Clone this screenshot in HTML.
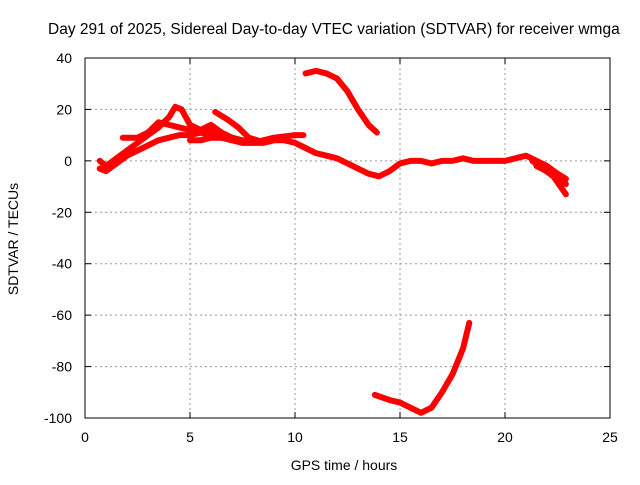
<!DOCTYPE html>
<html><head><meta charset="utf-8"><style>
body{margin:0;background:#fff}
text{font-family:"Liberation Sans",sans-serif;font-size:14px;fill:#000}
</style></head><body>
<svg id="c" width="640" height="480">
<text x="48" y="34" style="font-size:15.5px">Day 291 of 2025, Sidereal Day-to-day VTEC variation (SDTVAR) for receiver wmga</text>
<text x="344" y="470" text-anchor="middle">GPS time / hours</text>
<text transform="translate(18,239) rotate(-90)" text-anchor="middle">SDTVAR / TECUs</text>
<g id="grid"></g><g id="series"></g>
<rect x="85" y="58" width="525" height="360" fill="none" stroke="#000"/>
</svg>
<script>
const xTicks=[0,5,10,15,20,25];
const yTicks=[40,20,0,-20,-40,-60,-80,-100];
const seriesA=[[0.7,-3],[1,-4],[1.5,-1],[2,2],[2.5,4],[3,6],[3.5,8],[4,9],[4.5,10],[5,10],[5.5,11],[6,10],[6.5,9],[7,8],[7.5,7],[8,7],[8.5,7],[9,8],[9.5,8],[10,7],[10.5,5],[11,3],[11.5,2],[12,1],[12.5,-1],[13,-3],[13.5,-5],[14,-6],[14.5,-4],[15,-1],[15.5,0],[16,0],[16.5,-1],[17,0],[17.5,0],[18,1],[18.5,0],[19,0],[19.5,0],[20,0],[20.5,1],[21,2],[21.5,0],[22,-2],[22.5,-5],[22.9,-9]];
const seriesB=[[0.7,0],[1,-2],[1.5,1],[2,4],[2.5,7],[3,10],[3.5,13],[4,17],[4.3,21],[4.6,20],[5,14],[5.5,12],[6,14],[6.5,11],[7,9],[7.5,7]];
const seriesC=[[1.8,9],[2.5,9],[3,11],[3.5,15],[4,14],[4.5,13],[5,12],[5.5,12],[6,12],[6.5,11]];
const seriesD=[[6.2,19],[6.8,16],[7.3,13],[7.8,9],[8.2,8]];
const seriesE=[[5,8],[5.5,8],[6,9],[7,9],[8,7],[9,9],[10,10],[10.4,10]];
const seriesF=[[10.5,34],[11,35],[11.5,34],[12,32],[12.5,27],[13,20],[13.5,14],[13.9,11]];
const seriesG=[[13.8,-91],[14.5,-93],[15,-94],[15.5,-96],[16,-98],[16.5,-96],[17,-90],[17.5,-83],[18,-73],[18.3,-63]];
const seriesH=[[21.3,0],[21.8,-3],[22.3,-6],[22.9,-13]];
const seriesI=[[21.5,-2],[22,-4],[22.5,-5],[22.9,-7]];
const allSeries=[seriesA,seriesB,seriesC,seriesD,seriesE,seriesF,seriesG,seriesH,seriesI];
const NS="http://www.w3.org/2000/svg";
const xs=h=>85+h*21, ys=v=>58+(40-v)*360/140;
const g=document.getElementById('grid'), s=document.getElementById('series');
function mk(tag,at,par){const e=document.createElementNS(NS,tag);for(const k in at)e.setAttribute(k,at[k]);par.appendChild(e);return e;}
xTicks.forEach(t=>{const x=xs(t);
 if(t>0&&t<25){const l=mk('line',{x1:x,x2:x,y1:58,y2:418,stroke:'#999','stroke-dasharray':'2,3'},g);
 
 }
 mk('line',{x1:x,x2:x,y1:418,y2:412,stroke:'#000'},g);mk('line',{x1:x,x2:x,y1:58,y2:64,stroke:'#000'},g);
 const tx=mk('text',{x:x,y:442,'text-anchor':'middle'},g);tx.textContent=t;
 
 });
yTicks.forEach(t=>{const y=ys(t);
 if(t<40&&t>-100){const l=mk('line',{x1:85,x2:610,y1:y,y2:y,stroke:'#999','stroke-dasharray':'2,3'},g);
 
 }
 mk('line',{x1:85,x2:91,y1:y,y2:y,stroke:'#000'},g);mk('line',{x1:610,x2:604,y1:y,y2:y,stroke:'#000'},g);
 const tx=mk('text',{x:72,y:y+5,'text-anchor':'end'},g);tx.textContent=t;
 
 });
allSeries.forEach((d,i)=>{const p=mk('polyline',{points:d.map(q=>xs(q[0])+','+ys(q[1])).join(' '),fill:'none',stroke:'#f00','stroke-width':6,'stroke-linejoin':'round','stroke-linecap':'round'},s);
 
 });
</script>
</body></html>
